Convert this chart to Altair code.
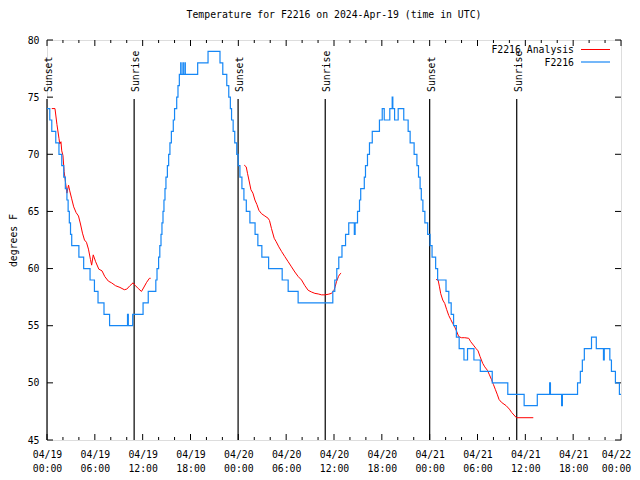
import altair as alt
import pandas as pd

TITLE = "Temperature for F2216 on 2024-Apr-19 (time in UTC)"
Y_TITLE = "degrees F"
FONT = "DejaVu Sans Mono"
FS = 9.8
BLUE = "#1687f5"
RED = "#ff0000"

# hours since 2024-04-19 00:00 UTC
obs_hours = [0.0, 0.35, 0.6, 1.1, 1.5, 1.85, 2.1, 2.3, 2.5, 2.65,
             2.8, 2.95, 3.1, 4.0, 4.6, 5.4, 5.95, 6.4, 7.15, 7.85,
             10.1, 10.2, 10.75, 12.05, 12.7,
             13.65, 13.8, 14.0, 14.15, 14.3, 14.42, 14.55, 14.67, 14.8, 14.92,
             15.1, 15.26, 15.42, 15.6, 15.84, 16.0, 16.27, 16.43, 16.6, 16.77,
             16.82, 17.05, 17.1, 17.3, 17.35, 18.9, 20.2, 21.7, 22.05, 22.55,
             22.8, 23.0, 23.15, 23.35, 23.55, 23.8, 23.98, 24.2, 24.45, 24.7,
             25.0, 25.45, 26.1, 26.45, 26.95, 27.8, 29.5, 30.25, 31.5, 35.85,
             36.1, 36.35, 36.6, 37.0, 37.45, 37.85, 38.55, 38.65, 38.95, 39.2,
             39.35, 39.8, 39.95, 40.2, 40.45, 40.8, 41.7, 42.05, 42.3, 43.0,
             43.3, 43.38, 43.6, 44.05, 44.75, 45.3, 45.55, 46.05, 46.4, 46.6,
             46.8, 46.95, 47.15, 47.4, 47.75, 48.05, 48.3, 48.75, 49.0, 50.05,
             50.4, 50.7, 51.0, 51.35, 51.7, 52.3, 52.75, 53.55, 54.35, 55.85,
             57.8, 59.85, 61.5, 63.05, 63.15, 64.55, 64.65, 66.55, 66.9, 67.15,
             67.4, 68.3, 68.9, 69.8, 69.9, 70.6, 70.8, 71.3, 71.8, 72.0]
obs_temps = [74, 73, 72, 71, 70, 69, 68, 67, 66, 65,
             64, 63, 62, 61, 60, 59, 58, 57, 56, 55,
             56, 55, 56, 57, 58,
             59, 60, 61, 62, 63, 64, 65, 66, 67, 68,
             69, 70, 71, 72, 73, 74, 75, 76, 77, 78,
             77, 78, 77, 78, 77, 78, 79, 78, 77, 76,
             75, 74, 73, 72, 71, 70, 69, 68, 67, 66,
             65, 64, 63, 62, 61, 60, 59, 58, 57, 58,
             59, 60, 61, 62, 63, 64, 63, 64, 65, 66,
             67, 68, 69, 70, 71, 72, 73, 74, 73, 74,
             75, 74, 73, 74, 73, 72, 71, 70, 69, 68,
             67, 66, 65, 64, 63, 62, 61, 60, 59, 58,
             57, 56, 55, 54, 53, 52, 53, 52, 51, 50,
             49, 48, 49, 50, 49, 48, 49, 50, 51, 52,
             53, 54, 53, 52, 53, 52, 51, 50, 49, 49]

ana1_hours = [0.6, 1.0, 1.25, 1.5, 1.6, 1.75, 1.85, 2.0, 2.15, 2.35, 2.5, 2.7, 2.85,
              3.1, 3.35, 3.65, 3.95, 4.2, 4.45, 4.7, 4.95, 5.2, 5.45, 5.6, 5.8,
              6.1, 6.5, 6.9, 7.25, 7.7, 8.1, 8.6, 9.15, 9.7, 10.0, 10.4, 10.8,
              11.1, 11.45, 11.85, 12.1, 12.5, 12.85, 13.0]
ana1_temps = [74.0, 74.0, 72.6, 71.4, 70.9, 71.1, 70.3, 69.9, 68.5, 67.4, 66.6, 67.3, 66.8,
              66.1, 65.4, 64.9, 64.6, 63.9, 63.1, 62.5, 62.3, 61.7, 60.8, 60.3, 61.2,
              60.6, 59.95, 59.8, 59.3, 58.9, 58.75, 58.5, 58.35, 58.15, 58.2, 58.5, 58.75,
              58.5, 58.25, 58.0, 58.3, 58.8, 59.15, 59.15]

ana2_hours = [24.74, 24.99, 25.16, 25.33, 25.58, 25.83, 26.08, 26.33, 26.58, 26.91,
              27.33, 27.74, 27.91, 28.16, 28.5, 28.75, 29.08, 29.42, 29.83, 30.25,
              30.67, 31.09, 31.51, 31.93, 32.35, 32.76, 33.18, 33.6, 34.02, 34.44,
              34.86, 35.27, 35.69, 36.0, 36.14, 36.31, 36.56, 36.72, 36.89]
ana2_temps = [69.05, 68.9, 68.3, 67.75, 66.9, 66.6, 66.0, 65.6, 65.1, 64.8,
              64.6, 64.4, 64.2, 63.5, 62.65, 62.35, 61.9, 61.5, 61.05, 60.6,
              60.15, 59.7, 59.3, 59.0, 58.5, 58.1, 57.95, 57.83, 57.78, 57.7,
              57.7, 57.75, 57.83, 58.1, 58.4, 58.85, 59.3, 59.5, 59.6]

ana3_hours = [48.81, 49.06, 49.23, 49.39, 49.64, 49.89, 50.14, 50.39, 50.64, 50.89,
              51.14, 51.39, 51.64, 51.98, 52.4, 52.9, 53.15, 53.49, 53.82, 54.07,
              54.32, 54.66, 54.91, 55.24, 55.5, 55.75, 56.0, 56.25, 56.5, 56.7,
              57.0, 57.6, 58.0, 58.3, 58.88, 61.0]
ana3_temps = [59.05, 59.0, 58.4, 57.8, 57.25, 56.95, 56.4, 55.9, 55.55, 55.2,
              54.9, 54.5, 54.05, 53.95, 53.95, 53.9, 53.6, 53.3, 53.0, 52.8,
              52.3, 51.7, 51.4, 51.1, 50.7, 50.3, 49.85, 49.4, 48.95, 48.55,
              48.3, 48.0, 47.7, 47.4, 46.95, 46.95]

event_hours = [0.0, 10.93, 23.97, 34.9, 48.0, 58.92]
event_labels = ["Sunset", "Sunrise", "Sunset", "Sunrise", "Sunset", "Sunrise"]

legend_labels = ["F2216 Analysis", "F2216"]

x_major = list(range(0, 73, 6))
x_minor = [h for h in range(0, 73, 2) if h % 6 != 0]
y_major = list(range(45, 81, 5))

obs_df = pd.DataFrame({"h": obs_hours, "t": obs_temps})
ana_df = pd.DataFrame({
    "h": ana1_hours + ana2_hours + ana3_hours,
    "t": ana1_temps + ana2_temps + ana3_temps,
    "seg": [1] * len(ana1_hours) + [2] * len(ana2_hours) + [3] * len(ana3_hours),
})
ev_df = pd.DataFrame({"h": event_hours, "label": event_labels})
xmaj_df = pd.DataFrame({"h": x_major})
xmin_df = pd.DataFrame({"h": x_minor})
ymaj_df = pd.DataFrame({"t": y_major})
one = pd.DataFrame({"k": [0]})

xs = alt.Scale(domain=[0, 72], nice=False, zero=False)
ys = alt.Scale(domain=[45, 80], nice=False, zero=False)

x_axis = alt.Axis(
    values=x_major,
    labelExpr="['04/' + (19 + floor(datum.value / 24)), (datum.value % 24 < 10 ? '0' : '') + (datum.value % 24) + ':00']",
    title=None, labelPadding=9, labelBaseline="top", labelLineHeight=14,
    labelAlign="center", labelFlush=False, labelOverlap=False,
    labelOffset={"condition": {"test": "datum.value == 72", "value": -5}, "value": 0},
    domain=False, ticks=False, tickSize=0, grid=False,
    labelFont=FONT, labelFontSize=FS, labelColor="black",
)
y_axis = alt.Axis(
    values=y_major, title=Y_TITLE, titleFont=FONT, titleFontSize=FS,
    titleFontWeight="normal", titleColor="black", titleAngle=270,
    titleX=-34, titleY=200, titleAlign="center", titleBaseline="middle",
    labelPadding=8, labelBaseline="middle", labelFont=FONT, labelFontSize=FS,
    labelColor="black", domain=False, ticks=False, tickSize=0, grid=False,
)


def X():
    return alt.X("h:Q", scale=xs, axis=x_axis)


def Y():
    return alt.Y("t:Q", scale=ys, axis=y_axis)


obs = alt.Chart(obs_df).mark_line(color=BLUE, strokeWidth=1.2, interpolate="step-after").encode(
    x=X(), y=Y()
)
ana = alt.Chart(ana_df).mark_line(color=RED, strokeWidth=1).encode(
    x=X(), y=Y(), detail="seg:N"
)
ev_rule = alt.Chart(ev_df).mark_rule(color="black", strokeWidth=1.2).encode(
    x=X(), y=alt.value(59), y2=alt.value(400)
)
ev_text = alt.Chart(ev_df).mark_text(
    angle=270, align="left", baseline="alphabetic", dy=5,
    font=FONT, fontSize=FS, color="black"
).encode(x=X(), y=alt.value(52), text="label:N")

tick_layers = [
    alt.Chart(xmaj_df).mark_rule(color="black").encode(x=X(), y=alt.value(400), y2=alt.value(394)),
    alt.Chart(xmaj_df).mark_rule(color="black").encode(x=X(), y=alt.value(0), y2=alt.value(6)),
    alt.Chart(xmin_df).mark_rule(color="black").encode(x=X(), y=alt.value(400), y2=alt.value(397)),
    alt.Chart(xmin_df).mark_rule(color="black").encode(x=X(), y=alt.value(0), y2=alt.value(3)),
    alt.Chart(ymaj_df).mark_rule(color="black").encode(y=Y(), x=alt.value(0), x2=alt.value(6)),
    alt.Chart(ymaj_df).mark_rule(color="black").encode(y=Y(), x=alt.value(574), x2=alt.value(568)),
]

leg = [
    alt.Chart(one).mark_text(text=legend_labels[0], align="right", baseline="middle",
                             font=FONT, fontSize=FS, color="black").encode(x=alt.value(527), y=alt.value(10)),
    alt.Chart(one).mark_text(text=legend_labels[1], align="right", baseline="middle",
                             font=FONT, fontSize=FS, color="black").encode(x=alt.value(527), y=alt.value(22.5)),
    alt.Chart(one).mark_rule(color=RED, strokeWidth=1).encode(x=alt.value(534), x2=alt.value(563), y=alt.value(9.5)),
    alt.Chart(one).mark_rule(color=BLUE, strokeWidth=1.2).encode(x=alt.value(534), x2=alt.value(563), y=alt.value(22)),
]

chart = alt.layer(
    ev_rule, ev_text, *tick_layers, ana, obs, *leg
).properties(
    width=574, height=400,
    padding={"left": 39, "top": 32, "right": 11, "bottom": 32},
    autosize=alt.AutoSizeParams(type="none"),
    title=alt.TitleParams(text=TITLE, font=FONT, fontSize=FS, fontWeight="normal",
                          color="black", anchor="middle", frame="group", offset=15),
).configure_view(stroke="black", strokeWidth=1).configure(background="white")

chart.save("out.html", embed_options={"renderer": "svg", "actions": False})
